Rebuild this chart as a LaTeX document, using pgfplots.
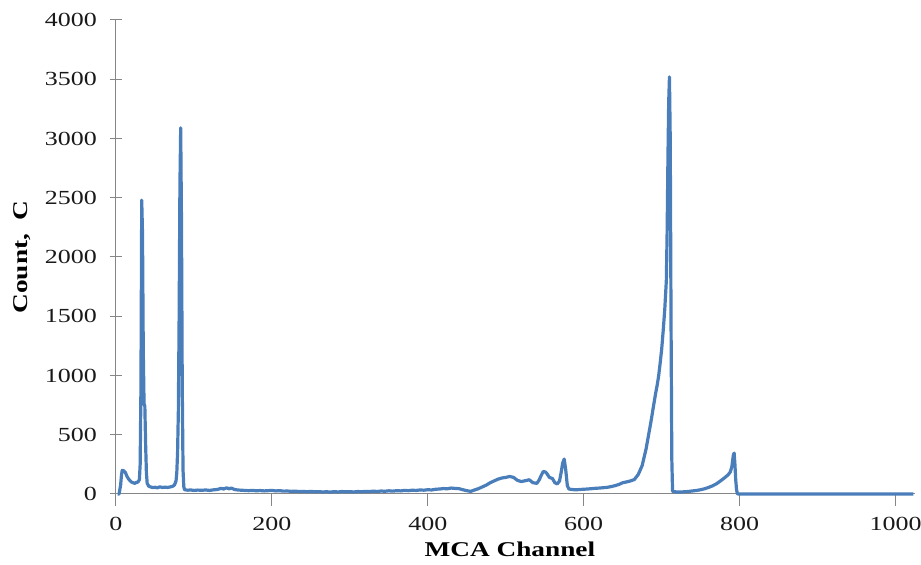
\documentclass[border=0pt]{standalone}
\usepackage{fontspec}
\setmainfont{Liberation Serif}[FakeStretch=1.3]
\usepackage{pgfplots}
\pgfplotsset{compat=1.18}
\definecolor{serblue}{RGB}{74,126,187}
\definecolor{axgray}{RGB}{134,134,134}
\begin{document}
\begin{tikzpicture}
\path[use as bounding box] (-58pt,-35.5pt) rectangle (402.5pt,247pt);
\begin{axis}[
  at={(0,0)}, anchor=south west,
  scale only axis, width=399.5pt, height=237pt,
  xmin=0, xmax=1025, ymin=0, ymax=4000,
  axis x line*=bottom, axis y line*=left,
  axis line style={axgray, line width=0.5pt},
  xtick={0,200,400,600,800,1000},
  ytick={0,500,1000,1500,2000,2500,3000,3500,4000},
  xtick align=outside, ytick align=center,
  major tick length=6pt,
  tick style={axgray, line width=0.5pt},
  /pgf/number format/assume math mode=true,
  /pgf/number format/1000 sep={},
  ticklabel style={font=\fontsize{10}{11}\selectfont, text=black!90},
  xticklabel style={yshift=-2pt},
  yticklabel style={xshift=-3pt},
  xlabel={MCA Channel}, ylabel={Count,\ \ C},
  label style={font=\fontsize{10.5}{12}\selectfont\bfseries},
  xlabel style={at={(axis description cs:0.493,-0.116)}, anchor=center},
  ylabel style={at={(axis description cs:-0.1176,0.5)}, anchor=center},
  clip=false,
]
\addplot[serblue, line width=1.6pt, line join=round] coordinates {
(2,0) (4,0) (6,80) (7,160) (8,200) (10,195) (12,182) (14,150) (16,128) (18,112)
(20,100) (22,95) (24,90) (26,97) (28,100) (30,120) (31,250) (32,900) (33,2480)
(34,2200) (35,1200) (36,760) (37,740) (38,420) (39,180) (40,90) (42,66) (45,58)
(48,54) (50,57) (53,52) (56,60) (60,55) (63,58) (66,55) (70,60) (73,66) (75,76)
(77,110) (78,180) (79,350) (80,700) (81,1500) (82,2600) (83,3090) (84,2300)
(85,900) (86,200) (87,60) (88,36) (92,32) (96,34) (100,30) (105,33) (110,31)
(115,34) (120,30) (125,35) (130,38) (135,48) (138,42) (142,52) (145,44) (148,50)
(152,38) (156,34) (160,32) (165,30) (170,28) (175,30) (180,27) (185,29) (190,26)
(195,28) (200,30) (205,26) (210,28) (215,24) (220,25) (225,22) (230,24) (235,20)
(240,22) (245,19) (250,22) (255,18) (260,20) (265,17) (270,19) (275,16) (280,20)
(285,17) (290,21) (295,18) (300,20) (305,17) (310,21) (315,19) (320,22) (325,20)
(330,24) (335,21) (340,25) (345,23) (350,27) (355,24) (360,28) (365,26) (370,30)
(375,28) (380,32) (385,30) (390,34) (395,32) (400,36) (405,34) (410,40) (415,42)
(420,46) (425,44) (430,50) (435,47) (440,45) (445,36) (450,28) (455,22) (460,34)
(465,45) (470,60) (475,75) (480,95) (485,110) (490,125) (495,135) (500,140)
(505,148) (510,140) (515,115) (520,105) (525,112) (530,120) (535,95) (540,90)
(543,120) (545,150) (548,190) (551,185) (553,170) (556,140) (560,130) (563,95)
(566,85) (569,110) (571,180) (573,260) (575,295) (577,200) (579,70) (581,42)
(585,38) (590,35) (595,38) (600,40) (605,42) (610,45) (615,48) (620,50) (625,53)
(630,56) (635,62) (640,70) (645,80) (650,95) (655,102) (660,110) (665,122)
(670,165) (675,240) (680,380) (683,490) (686,600) (689,720) (692,840) (694,910)
(696,990) (698,1100) (700,1220) (702,1380) (704,1560) (706,1800) (707,2200)
(708,2800) (709,3300) (710,3520) (711,3000) (712,1500) (713,300) (714,22)
(720,16) (725,17) (730,19) (735,22) (740,26) (745,30) (750,36) (755,44) (760,55)
(765,68) (770,85) (775,108) (780,133) (785,160) (788,185) (790,230) (792,330)
(793,345) (794,250) (795,120) (796,40) (797,5) (798,0) (900,0) (1023,0)
};
\end{axis}
\end{tikzpicture}
\end{document}
